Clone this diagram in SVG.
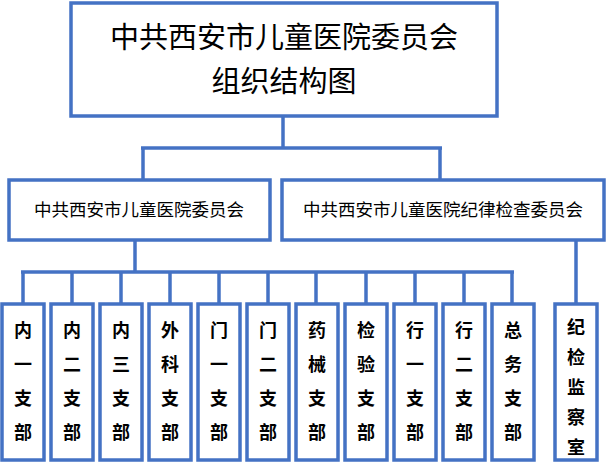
<svg xmlns="http://www.w3.org/2000/svg" width="607" height="463" viewBox="0 0 607 463">
<style>
rect{fill:#fff;stroke:#4472C4;stroke-width:3.5}
.c line{stroke:#4472C4;stroke-width:3.5}
text{font-family:"Noto Sans CJK SC",sans-serif;fill:#000;text-anchor:middle}
.t{font-size:29px}
.m{font-size:17.5px}
.s{font-size:18px;font-weight:bold}
</style>
<rect width="607" height="463" style="fill:#fff;stroke:none"/>
<g class="c">
<line x1="283" y1="116" x2="283" y2="148"/>
<line x1="141" y1="148" x2="442" y2="148"/>
<line x1="143" y1="148" x2="143" y2="180"/>
<line x1="440" y1="148" x2="440" y2="180"/>
<line x1="135" y1="240" x2="135" y2="272"/>
<line x1="21" y1="272" x2="514" y2="272"/>
<line x1="23" y1="272" x2="23" y2="304"/>
<line x1="72" y1="272" x2="72" y2="304"/>
<line x1="121" y1="272" x2="121" y2="304"/>
<line x1="170" y1="272" x2="170" y2="304"/>
<line x1="219" y1="272" x2="219" y2="304"/>
<line x1="268" y1="272" x2="268" y2="304"/>
<line x1="316" y1="272" x2="316" y2="304"/>
<line x1="366" y1="272" x2="366" y2="304"/>
<line x1="415" y1="272" x2="415" y2="304"/>
<line x1="464" y1="272" x2="464" y2="304"/>
<line x1="512" y1="272" x2="512" y2="304"/>
<line x1="576" y1="240" x2="576" y2="304"/>
</g>
<g id="top"><rect x="71" y="3" width="426" height="113"/><text class="t" x="284" y="48">中共西安市儿童医院委员会</text><text class="t" x="284" y="92">组织结构图</text></g>
<g id="party"><rect x="9" y="180" width="261" height="60"/><text class="m" x="139" y="216">中共西安市儿童医院委员会</text></g>
<g id="discipline"><rect x="282" y="180" width="322" height="60"/><text class="m" x="443" y="216">中共西安市儿童医院纪律检查委员会</text></g>
<g id="b1"><rect x="2" y="304" width="42" height="156"/><text class="s" x="23"><tspan x="23" y="337">内</tspan><tspan x="23" y="371">一</tspan><tspan x="23" y="405">支</tspan><tspan x="23" y="439">部</tspan></text></g>
<g id="b2"><rect x="51" y="304" width="42" height="156"/><text class="s"><tspan x="72" y="337">内</tspan><tspan x="72" y="371">二</tspan><tspan x="72" y="405">支</tspan><tspan x="72" y="439">部</tspan></text></g>
<g id="b3"><rect x="100" y="304" width="42" height="156"/><text class="s"><tspan x="121" y="337">内</tspan><tspan x="121" y="371">三</tspan><tspan x="121" y="405">支</tspan><tspan x="121" y="439">部</tspan></text></g>
<g id="b4"><rect x="149" y="304" width="42" height="156"/><text class="s"><tspan x="170" y="337">外</tspan><tspan x="170" y="371">科</tspan><tspan x="170" y="405">支</tspan><tspan x="170" y="439">部</tspan></text></g>
<g id="b5"><rect x="198" y="304" width="42" height="156"/><text class="s"><tspan x="219" y="337">门</tspan><tspan x="219" y="371">一</tspan><tspan x="219" y="405">支</tspan><tspan x="219" y="439">部</tspan></text></g>
<g id="b6"><rect x="247" y="304" width="42" height="156"/><text class="s"><tspan x="268" y="337">门</tspan><tspan x="268" y="371">二</tspan><tspan x="268" y="405">支</tspan><tspan x="268" y="439">部</tspan></text></g>
<g id="b7"><rect x="296" y="304" width="42" height="156"/><text class="s"><tspan x="317" y="337">药</tspan><tspan x="317" y="371">械</tspan><tspan x="317" y="405">支</tspan><tspan x="317" y="439">部</tspan></text></g>
<g id="b8"><rect x="345" y="304" width="42" height="156"/><text class="s"><tspan x="366" y="337">检</tspan><tspan x="366" y="371">验</tspan><tspan x="366" y="405">支</tspan><tspan x="366" y="439">部</tspan></text></g>
<g id="b9"><rect x="394" y="304" width="42" height="156"/><text class="s"><tspan x="415" y="337">行</tspan><tspan x="415" y="371">一</tspan><tspan x="415" y="405">支</tspan><tspan x="415" y="439">部</tspan></text></g>
<g id="b10"><rect x="443" y="304" width="42" height="156"/><text class="s"><tspan x="464" y="337">行</tspan><tspan x="464" y="371">二</tspan><tspan x="464" y="405">支</tspan><tspan x="464" y="439">部</tspan></text></g>
<g id="b11"><rect x="492" y="304" width="42" height="156"/><text class="s"><tspan x="513" y="337">总</tspan><tspan x="513" y="371">务</tspan><tspan x="513" y="405">支</tspan><tspan x="513" y="439">部</tspan></text></g>
<g id="b12"><rect x="555" y="304" width="42" height="156"/><text class="s"><tspan x="576" y="334">纪</tspan><tspan x="576" y="364">检</tspan><tspan x="576" y="394">监</tspan><tspan x="576" y="424">察</tspan><tspan x="576" y="454">室</tspan></text></g>
</svg>
